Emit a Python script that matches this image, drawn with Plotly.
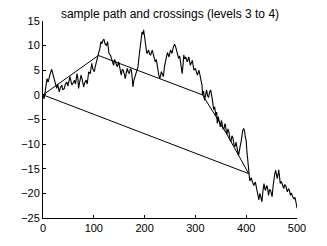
import plotly.graph_objects as go

# Sample path (time, value)
t_path = [0, 2, 4, 6, 8, 10, 12, 14, 17, 19, 21, 23, 25, 27, 29, 32, 34, 37, 39, 42, 44, 47, 49, 51, 53, 55, 57, 60, 62, 64,
          67, 69, 70, 72, 75, 77, 80, 82, 85, 87, 90, 93, 96, 98, 101, 103, 106, 108, 109, 112, 114, 116, 118, 120, 122, 125,
          127, 130, 133, 136, 139, 141, 143, 146, 149, 151, 154, 156, 158, 160, 162, 164, 166, 168, 170, 172, 174, 176, 177,
          179, 182, 185, 187, 189, 191, 193, 195, 197, 198, 200, 202, 204, 205, 208, 210, 212, 215, 218, 221, 223, 225, 228,
          230, 233, 235, 237, 239, 241, 243, 245, 248, 251, 254, 256, 259, 261, 264, 267, 269, 271, 273, 274, 276, 277, 279,
          281, 284, 287, 290, 292, 294, 297, 300, 302, 304, 307, 310, 313, 314, 316, 318, 320, 322, 324, 326, 328, 330, 333,
          335, 336, 338, 340, 342, 343, 345, 346, 348, 349, 351, 352, 354, 356, 358, 359, 361, 362, 364, 366, 368, 370, 372,
          374, 376, 378, 380, 381, 383, 385, 387, 388, 390, 391, 393, 395, 397, 398, 400, 401, 403, 404, 405, 407, 408, 410,
          412, 415, 418, 420, 422, 424, 425, 427, 429, 431, 433, 435, 437, 438, 440, 441, 443, 444, 446, 448, 450, 451, 453,
          454, 456, 458, 460, 461, 463, 464, 466, 467, 469, 471, 474, 476, 478, 481, 483, 485, 487, 489, 491, 494, 496, 498, 500]
w_path = [0, -0.8, 0.5, 2.5, 3.3, 2.6, 3.8, 4.2, 5.2, 4.3, 3.5, 3, 1.8, 1.3, 2.2, 0.6, 1.4, 2, 1, 1.3, 2.2, 2.6, 1.8, 3, 3.7,
          2.8, 2, 2.5, 3, 2.2, 4.3, 3, 1.3, 2.5, 4, 3.2, 1.6, 2.4, 3, 2.2, 4.7, 4.3, 6.4, 5.3, 4.7, 5.8, 7, 7.6, 8, 9.5, 10.8,
          10.4, 11.1, 11.3, 10.4, 10, 10.8, 8.4, 8, 7, 6, 7.2, 6.7, 5.7, 6.7, 5.5, 4, 5.2, 5, 4.2, 3.3, 4.5, 5.4, 4.6, 4.3,
          5.3, 5, 3, 1.6, 3, 4, 5, 5.7, 7.7, 9.8, 11.1, 12.8, 12.3, 13.2, 11.8, 9.8, 8.6, 8.4, 9.1, 8.2, 8.1, 9.1, 7.7, 6.7,
          7.2, 5.7, 4, 3.3, 4.7, 4.2, 3.7, 5.7, 7, 7.7, 8.6, 7.7, 9.1, 8.4, 9.5, 10.3, 9.8, 8.4, 7.4, 7.9, 6.4, 5.5, 4.3, 6.5,
          8.1, 7.3, 7.7, 6.7, 7.7, 6, 6.8, 7, 5, 5.4, 4.6, 4, 5, 3.3, 2, 0, 0.8, -1.1, 0.2, 1, -0.2, -0.5, 0.6, 1, -0.7, -2,
          -3, -2.4, -4.1, -3.5, -5.8, -4.4, -4.8, -5.6, -6.5, -5.2, -5.5, -6.8, -7, -5.9, -6, -7.6, -8, -6.9, -7.5, -9.1,
          -9.5, -8.3, -8.8, -10.2, -10.5, -9.6, -10, -11.3, -12.3, -11.5, -10.5, -9.5, -8.5, -7.3, -6.8, -7.4, -8.5, -9.3,
          -11, -13, -14.5, -16, -17.5, -17.3, -16.8, -17.6, -18.4, -17.7, -18.8, -19.7, -20.5, -21.3, -20, -20.7, -21.7,
          -19.5, -18, -19.2, -19.4, -18.6, -18.4, -19.6, -20.4, -19.2, -19.4, -20.2, -20.7, -18.5, -17.3, -16.2, -15.3,
          -16.6, -17, -16, -15.2, -17, -18, -17.6, -18.4, -19, -18.2, -18.5, -19.7, -19.1, -19.3, -20.4, -19.9, -20.6,
          -21.1, -20.8, -21.8, -23]

# Level crossings
t_lvl3 = [0, 109, 314, 362, 405]
v_lvl3 = [0, 8, 0, -8, -16]
t_lvl4 = [0, 405]
v_lvl4 = [0, -16]

x_ticks = [0, 100, 200, 300, 400, 500]
y_ticks = [-25, -20, -15, -10, -5, 0, 5, 10, 15]

fig = go.Figure()
fig.add_trace(go.Scatter(x=t_path, y=w_path, mode="lines", line=dict(color="black", width=1.1)))
fig.add_trace(go.Scatter(x=t_lvl3, y=v_lvl3, mode="lines", line=dict(color="black", width=1)))
fig.add_trace(go.Scatter(x=t_lvl4, y=v_lvl4, mode="lines", line=dict(color="black", width=1)))

font = dict(family="Liberation Sans, Arial, sans-serif", size=11, color="black")
# The page body adds an 8px offset; the figure is sized to fill the rest of the window.
fig.update_layout(
    width=319, height=238,
    margin=dict(l=34.5, r=30.3, t=12.9, b=28.3, autoexpand=False),
    paper_bgcolor="white", plot_bgcolor="white",
    showlegend=False,
    font=font,
    title=dict(text="sample path and crossings (levels 3 to 4)", x=0.5, xref="paper",
               y=1, yref="container", yanchor="top", xanchor="center",
               pad=dict(t=2, b=0), font=dict(family=font["family"], size=12, color="black")),
    xaxis=dict(range=[0, 500], tickvals=x_ticks, ticks="inside", ticklen=3, tickcolor="black",
               showline=True, linecolor="black", linewidth=1, showgrid=False, zeroline=False,
               tickfont=font, automargin=False),
    yaxis=dict(range=[-25, 15], tickvals=y_ticks, ticks="inside", ticklen=3, tickcolor="black",
               showline=True, linecolor="black", linewidth=1, showgrid=False, zeroline=False,
               tickfont=font, automargin=False),
)
fig.write_html("out.html")
